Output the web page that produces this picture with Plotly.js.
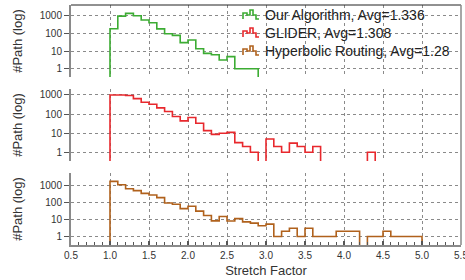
<!DOCTYPE html>
<html>
<head>
<meta charset="utf-8">
<script src="https://cdn.plot.ly/plotly-3.0.1.min.js"></script>
<style>html,body{margin:0;padding:0;background:#fff;}#chart{width:465px;height:280px;}</style>
</head>
<body>
<div id="chart"></div>
<script>
// ---- data (bins of width 0.1 starting at 1.0) ----
const binStart = 1.0;
const binWidth = 0.1;
const seriesNames = ["Our Algorithm, Avg=1.336", "GLIDER, Avg=1.308", "Hyperbolic Routing, Avg=1.28"];
const ourAlgorithm = [183, 950, 1350, 1000, 570, 400, 180, 95, 77, 30, 42, 13.5, 7.4, 6.2, 3.1, 4.8, 1, 1, 1];
const glider = [1000, 1000, 930, 640, 415, 325, 210, 135, 74, 44,
                66, 33, 13.6, 8.7, 9.9, 11, 3.2, 2, 1, 0,
                5, 2, 1, 3, 2, 1, 2, 0, 0, 0,
                0, 0, 0, 1];
const hyperbolic = [1620, 1040, 610, 470, 325, 260, 183, 90, 75, 42,
                    58, 30, 16.5, 8.1, 14.5, 8, 11, 7.1, 6, 4.2,
                    5.2, 1, 2, 3, 1, 3, 1, 1, 1, 2,
                    2, 2, 0, 1, 1, 2, 1, 1, 1, 1];
const yTickVals = [1, 10, 100, 1000];
const yTickText = ["1", "10", "100", "1000"];
const xTickVals = [0.5, 1.0, 1.5, 2.0, 2.5, 3.0, 3.5, 4.0, 4.5, 5.0, 5.5];
const xTickText = ["0.5", "1.0", "1.5", "2.0", "2.5", "3.0", "3.5", "4.0", "4.5", "5.0", "5.5"];
const colors = ["#3cac33", "#e8282d", "#b0611c"];

const FLOOR = 0.01; // below visible range: draws the drop to the axis
function stepXY(vals) {
  const n = vals.length;
  const edge = i => +(binStart + i * binWidth).toFixed(3);
  const xs = [edge(0)], ys = [FLOOR];
  for (let i = 0; i < n; i++) { xs.push(edge(i)); ys.push(vals[i] > 0 ? vals[i] : FLOOR); }
  xs.push(edge(n)); ys.push(vals[n - 1] > 0 ? vals[n - 1] : FLOOR);
  xs.push(edge(n)); ys.push(FLOOR);
  return {xs, ys};
}

const seriesData = [ourAlgorithm, glider, hyperbolic];
const yaxesIds = ["y", "y2", "y3"];
const traces = seriesData.map((vals, k) => {
  const s = stepXY(vals);
  return {
    x: s.xs, y: s.ys, type: "scatter", mode: "lines",
    line: {shape: "hv", color: colors[k], width: 1.6},
    xaxis: "x", yaxis: yaxesIds[k], name: seriesNames[k], showlegend: false,
    hoverinfo: "skip"
  };
});

const FONT = "Liberation Sans, Arial, Helvetica, sans-serif";
const W = 465, H = 280, ML = 71, MR = 4, MT = 5, MB = 35;
const PW = W - ML - MR, PH = H - MT - MB;
const px = x => (x - ML) / PW;
const py = y => (H - MB - y) / PH;

function yax(range, domain) {
  return {
    type: "log", range: range, domain: domain,
    tickvals: yTickVals, ticktext: yTickText,
    ticks: "outside", ticklen: 5, tickwidth: 1, tickcolor: "#555",
    showline: true, linecolor: "#8a8a8a", linewidth: 2,
    showgrid: true, gridcolor: "#8a8a8a", griddash: "dot", gridwidth: 1,
    zeroline: false, anchor: "x",
    tickfont: {family: FONT, size: 10, color: "#333"},
    title: {text: "#Path (log)", font: {family: FONT, size: 13, color: "#333"}, standoff: 14},
    fixedrange: true
  };
}

// legend drawn as decoration
const legendRows = [15, 33, 51];
const shapes = [
  {type: "line", xref: "paper", yref: "paper", x0: 0, x1: 1, y0: 1, y1: 1, line: {color: "#222", width: 1}},
  {type: "line", xref: "paper", yref: "paper", x0: 1, x1: 1, y0: 0, y1: 1, line: {color: "#8a8a8a", width: 1.5}}
];
const iconPts = [[0, 9], [0, 3], [4, 3], [4, 5], [7, 5], [7, 0], [10, 0], [10, 5], [13, 5], [13, 9], [16, 9]];
const annotations = [];
legendRows.forEach((ry, k) => {
  const x0 = 243, y0 = ry - 5;
  const path = iconPts.map((p, i) => (i ? "L" : "M") + px(x0 + p[0]).toFixed(5) + "," + py(y0 + p[1]).toFixed(5)).join(" ");
  shapes.push({type: "path", xref: "paper", yref: "paper", path: path, line: {color: colors[k], width: 1.6}});
  annotations.push({
    xref: "paper", yref: "paper", x: px(264), y: py(ry), xanchor: "left", yanchor: "middle",
    text: seriesNames[k], showarrow: false, borderpad: 0,
    font: {family: FONT, size: 14, color: "#222"}
  });
});

const layout = {
  width: W, height: H,
  margin: {l: ML, r: MR, t: MT, b: MB, pad: 0},
  paper_bgcolor: "#fff", plot_bgcolor: "#fff",
  showlegend: false,
  font: {family: FONT, color: "#333"},
  xaxis: {
    range: [0.5, 5.5], anchor: "y3",
    tickvals: xTickVals, ticktext: xTickText,
    ticklabeloverflow: "allow",
    ticks: "inside", ticklen: 4, tickwidth: 1.2, tickcolor: "#555",
    minor: {dtick: 0.1, tick0: 0.5, ticks: "inside", ticklen: 3, tickcolor: "#555", tickwidth: 1, showgrid: false},
    showline: true, linecolor: "#8a8a8a", linewidth: 2,
    showgrid: true, gridcolor: "#8a8a8a", griddash: "dot", gridwidth: 1,
    zeroline: false,
    tickfont: {family: FONT, size: 10, color: "#333"},
    title: {text: "Stretch Factor", font: {family: FONT, size: 13, color: "#333"}, standoff: 6},
    fixedrange: true
  },
  yaxis: yax([-0.47, 3.605], [0.7, 1.0]),
  yaxis2: yax([-0.455, 3.31], [0.35, 0.65]),
  yaxis3: yax([-0.5, 3.70], [0.0, 0.3]),
  shapes: shapes,
  annotations: annotations
};

Plotly.newPlot("chart", traces, layout, {staticPlot: true, displayModeBar: false});
</script>
</body>
</html>
